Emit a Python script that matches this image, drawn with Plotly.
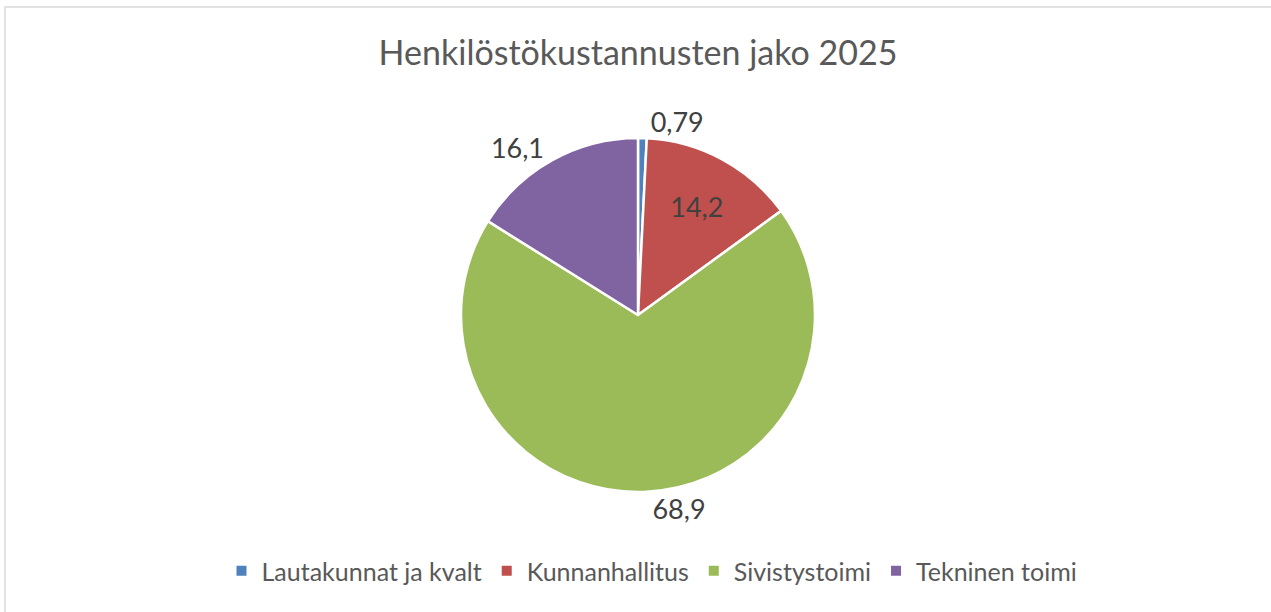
import plotly.graph_objects as go

title_text = "Henkilöstökustannusten jako 2025"
categories = ["Lautakunnat ja kvalt", "Kunnanhallitus", "Sivistystoimi", "Tekninen toimi"]
values = [0.79, 14.2, 68.9, 16.1]
colors = ["#4F81BD", "#C0504D", "#9BBB59", "#8064A2"]
text_pos = ["outside", "inside", "outside", "outside"]

W, H = 1271, 612
ml, mr, mt, mb = 10, 5, 138, 120
pw, ph = W - ml - mr, H - mt - mb

fig = go.Figure(go.Pie(
    labels=categories,
    values=values,
    sort=False,
    direction="clockwise",
    rotation=0,
    marker=dict(colors=colors, line=dict(color="white", width=2.5)),
    textinfo="value",
    textposition=text_pos,
    textfont=dict(family="Lato", size=27, color="#404040"),
    insidetextorientation="horizontal",
    showlegend=True,
    hoverinfo="label+value",
))

fig.update_layout(
    width=W, height=H,
    margin=dict(l=ml, r=mr, t=mt, b=mb, autoexpand=False),
    paper_bgcolor="white",
    separators=", ",
    title=dict(text=title_text, x=(638 / W), xanchor="center", xref="container",
               y=1 - 53 / H, yanchor="middle", yref="container",
               font=dict(family="Lato", size=34, color="#595959")),
    legend=dict(orientation="h", x=(652 - ml) / pw, xanchor="center",
                y=(H - mb - 571) / ph, yanchor="middle",
                font=dict(family="Lato", size=25, color="#595959"),
                itemsizing="constant", itemwidth=30, tracegroupgap=0),
    shapes=[dict(type="rect", xref="paper", yref="paper",
                 x0=(5 - ml) / pw, x1=1.05,
                 y0=-0.5, y1=(H - mb - 7) / ph,
                 line=dict(color="#D9D9D9", width=1.5), layer="below")],
)

fig.write_html("out.html",
               config={"displayModeBar": False},
               post_script="document.body.style.margin='0px';document.body.style.overflow='hidden';")
